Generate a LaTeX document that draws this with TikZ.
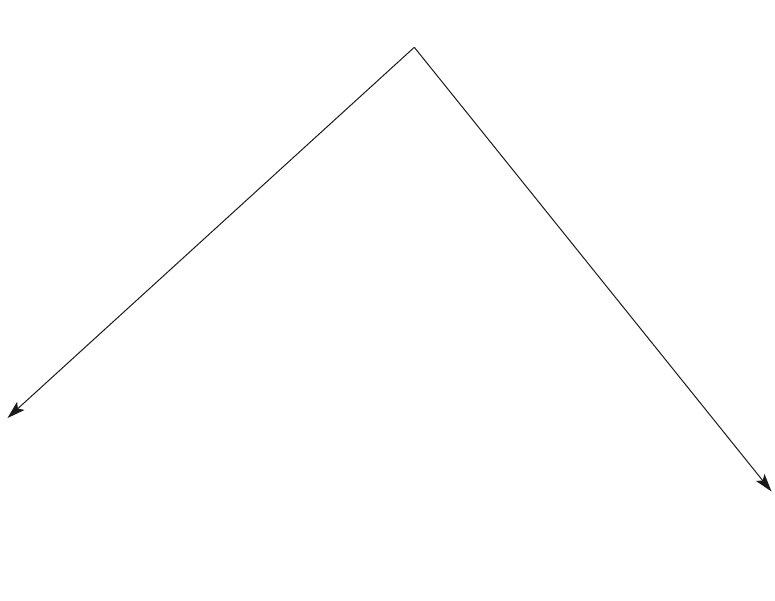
\documentclass[tikz,border=0pt]{standalone}
\usetikzlibrary{arrows.meta}
\begin{document}
\begin{tikzpicture}[x=1pt,y=-1pt,
  branch/.style={draw=black!90, line width=1pt, -{Stealth[length=18pt,width=11pt,inset=4pt]}}]
\useasboundingbox (0,0) rectangle (775,600);
\coordinate (apex) at (414.3,47.3);
\coordinate (leftend) at (7.5,418);
\coordinate (rightend) at (771.5,491.5);
\draw[branch] (apex) -- (leftend);
\draw[branch] (apex) -- (rightend);
\end{tikzpicture}
\end{document}
